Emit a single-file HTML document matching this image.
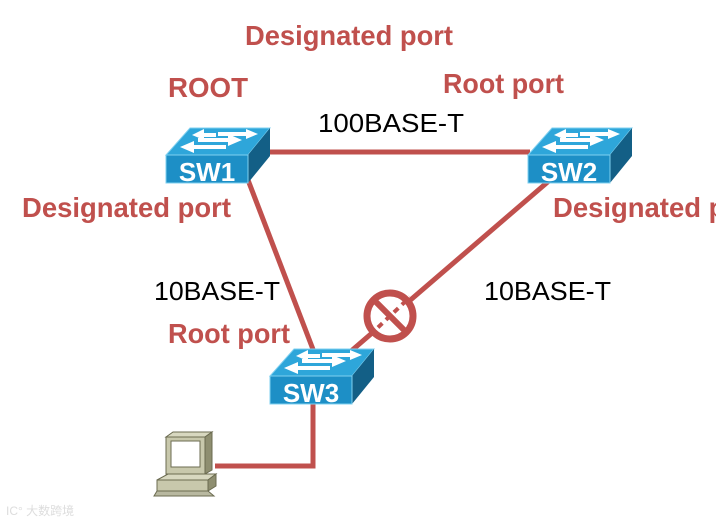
<!DOCTYPE html>
<html><head><style>html,body{margin:0;padding:0;background:#fff;width:716px;height:524px;overflow:hidden}</style></head>
<body>
<svg width="716" height="524" viewBox="0 0 716 524" xmlns="http://www.w3.org/2000/svg">
<defs>
<g id="sw">
  <polygon points="0,27 82,27 104,0 24,0" fill="#2ea6da" stroke="#7fd0f0" stroke-width="1"/>
  <polygon points="82,27 104,0 104,28 82,55" fill="#135f86"/>
  <rect x="0" y="27" width="82" height="28" fill="#1d8fc6" stroke="#7fd0f0" stroke-width="1"/>
  <g fill="#fff">
    <polygon points="32,10 62,10 62,6 76,12 62,18 62,14 32,14"/>
    <polygon points="52,3 80,3 80,0 92,5 80,10 80,7 52,7" transform="translate(0,1)"/>
    <polygon points="60,17 28,17 28,13 14,19 28,25 28,21 60,21"/>
    <polygon points="50,4 38,4 38,0 26,6 38,11 38,8 50,8" transform="translate(0,1)"/>
  </g>
</g>
</defs>
<g stroke="#c0504d" stroke-width="5" fill="none">
  <line x1="250" y1="152" x2="530" y2="152"/>
  <line x1="248" y1="180" x2="314" y2="352"/>
  <line x1="550" y1="180" x2="350" y2="352"/>
  <polyline points="313,403 313,466 215,466"/>
  <circle cx="390" cy="316" r="23" stroke-width="7" fill="#fff"/>
  <line x1="374" y1="300" x2="406" y2="332" stroke-width="6"/>
</g>
<line x1="370" y1="335" x2="410" y2="297" stroke="#c0504d" stroke-width="4" stroke-dasharray="6,5"/>
<use href="#sw" x="166" y="128"/>
<use href="#sw" x="528" y="128"/>
<use href="#sw" x="270" y="349"/>
<g font-family="Liberation Sans, sans-serif" font-weight="bold" font-size="26" fill="#fff">
  <text x="207" y="181" text-anchor="middle">SW1</text>
  <text x="569" y="181" text-anchor="middle">SW2</text>
  <text x="311" y="402" text-anchor="middle">SW3</text>
</g>
<g stroke="#6b6b50" stroke-width="1">
  <polygon points="166,437 205,437 212,432 173,432" fill="#d8d8c0"/>
  <polygon points="205,437 212,432 212,470 205,474" fill="#8e8e70"/>
  <rect x="166" y="437" width="39" height="37" fill="#c8c8ac"/>
  <rect x="171" y="441" width="29" height="26" fill="#fff"/>
  <polygon points="157,480 208,480 216,474 168,474" fill="#d8d8c0"/>
  <rect x="157" y="480" width="51" height="11" fill="#c8c8ac"/>
  <polygon points="208,480 216,474 216,486 208,491" fill="#8e8e70"/>
  <polygon points="157,491 208,491 214,496 154,496" fill="#b8b8a0"/>
</g>
<g font-family="Liberation Sans, sans-serif" font-weight="bold" font-size="28" fill="#c0504d">
  <text x="245" y="45" textLength="208" lengthAdjust="spacingAndGlyphs">Designated port</text>
  <text x="168" y="97" textLength="80" lengthAdjust="spacingAndGlyphs">ROOT</text>
  <text x="443" y="93" textLength="121" lengthAdjust="spacingAndGlyphs">Root port</text>
  <text x="22" y="217" textLength="209" lengthAdjust="spacingAndGlyphs">Designated port</text>
  <text x="553" y="217" textLength="209" lengthAdjust="spacingAndGlyphs">Designated port</text>
  <text x="168" y="343" textLength="122" lengthAdjust="spacingAndGlyphs">Root port</text>
</g>
<g font-family="Liberation Sans, sans-serif" font-size="26" fill="#000">
  <text x="318" y="132" textLength="146" lengthAdjust="spacingAndGlyphs">100BASE-T</text>
  <text x="154" y="300" textLength="126" lengthAdjust="spacingAndGlyphs">10BASE-T</text>
  <text x="484" y="300" textLength="127" lengthAdjust="spacingAndGlyphs">10BASE-T</text>
</g>
<text x="6" y="515" font-family="Liberation Sans, Noto Sans CJK SC, sans-serif" font-size="12" fill="#ddd">IC° 大数跨境</text>
</svg>
</body></html>
